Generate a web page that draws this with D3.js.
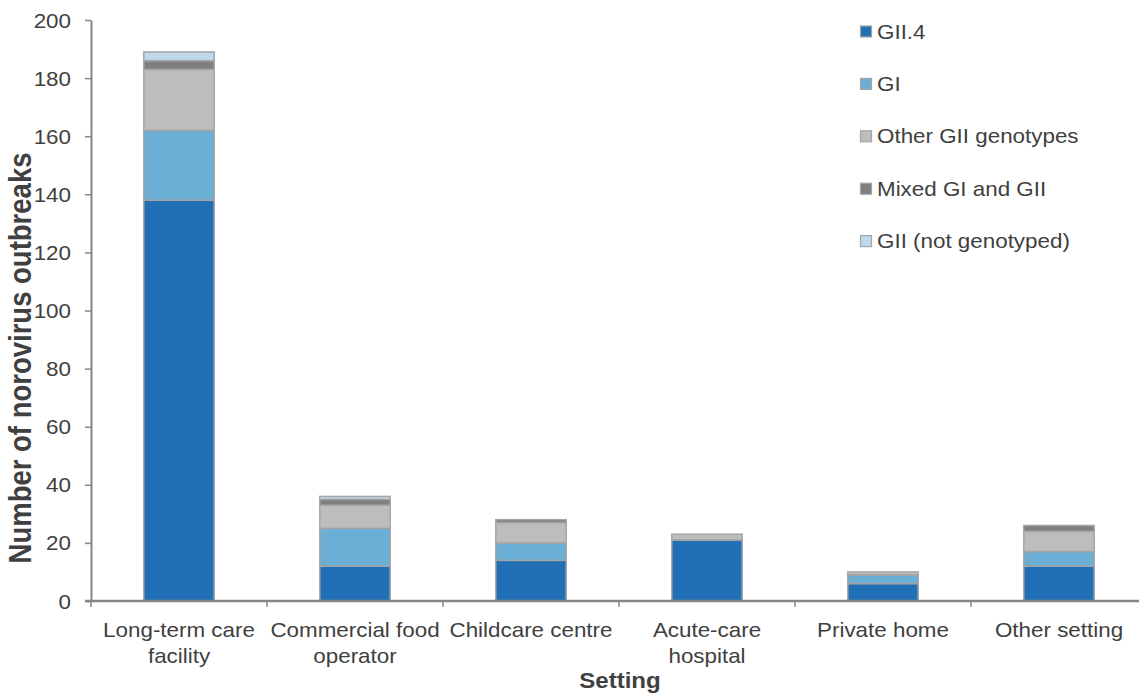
<!DOCTYPE html>
<html><head><meta charset="utf-8">
<script src="https://cdn.jsdelivr.net/npm/d3@7"></script>
<style>body{margin:0;background:#fff}svg{display:block}text{font-family:"Liberation Sans",Arial,sans-serif;fill:#404040}</style>
</head><body><svg id="c" width="1139" height="695"></svg>
<script>
const categories = ["Long-term care facility","Commercial food operator","Childcare centre","Acute-care hospital","Private home","Other setting"];
const categoryLines = [["Long-term care","facility"],["Commercial food","operator"],["Childcare centre"],["Acute-care","hospital"],["Private home"],["Other setting"]];
const seriesNames = ["GII.4","GI","Other GII genotypes","Mixed GI and GII","GII (not genotyped)"];
const gii4   = [138, 12, 14, 21, 6, 12];
const gi     = [24, 13, 6, 0, 3, 5];
const otherG = [21, 8, 7, 2, 1, 7];
const mixed  = [3, 2, 1, 0, 0, 2];
const giiNot = [3, 1, 0, 0, 0, 0];
const yTicks = [0,20,40,60,80,100,120,140,160,180,200];
const colors = ["#2170b5","#6baed6","#bdbdbd","#7f7f7f","#bfd9ec"];

const SX = 1.12; // horizontal stretch of text seen in reference
const seriesVals = [gii4, gi, otherG, mixed, giiNot];
const rows = categories.map((c,i)=>{const r={cat:c}; seriesNames.forEach((s,j)=>r[s]=seriesVals[j][i]); return r;});
const stack = d3.stack().keys(seriesNames)(rows);

const svg = d3.select("#c");
const x0 = 91, y0 = 601, yTop = 20, step = 176;
const x = d3.scaleBand().domain(categories).range([x0, x0 + step*categories.length]).paddingInner(0.6).paddingOuter(0.3);
const y = d3.scaleLinear().domain([0,200]).range([y0, yTop]);

// bars
stack.forEach((layer,j)=>{
  svg.append("g").selectAll("rect").data(layer).join("rect")
    .attr("x", d=>x(d.data.cat))
    .attr("width", x.bandwidth())
    .attr("y", d=>y(d[1]))
    .attr("height", d=>y(d[0])-y(d[1]))
    .attr("fill", colors[j])
    .attr("stroke", d=> (d[1]-d[0])>0 ? "#a5a5a5" : "none")
    .attr("stroke-width", 1.5);
});

// y axis
const ya = svg.append("g").attr("transform",`translate(${x0},0)`)
  .call(d3.axisLeft(y).tickValues(yTicks).tickSize(6).tickSizeOuter(0).tickPadding(14));
ya.select(".domain").attr("stroke","#868686").attr("stroke-width",2);
ya.selectAll(".tick line").attr("stroke","#868686").attr("stroke-width",1.5);
ya.selectAll(".tick text").attr("font-size",20).attr("fill","#404040")
  .attr("font-family","Liberation Sans, Arial, sans-serif")
  .attr("x",null).attr("dy",null)
  .attr("transform",`translate(-20,7) scale(${SX},1)`);

// x axis
svg.append("line").attr("x1",x0-6).attr("x2",1139).attr("y1",y0).attr("y2",y0).attr("stroke","#868686").attr("stroke-width",2.5);
const sepTicks = d3.range(categories.length).map(i=>x0 + step*i);
svg.append("g").selectAll("line").data(sepTicks).join("line")
  .attr("x1",d=>d).attr("x2",d=>d).attr("y1",y0).attr("y2",y0+6).attr("stroke","#868686").attr("stroke-width",1.5);
const xl = svg.append("g").selectAll("text").data(categories).join("text")
  .attr("text-anchor","middle").attr("font-size",20)
  .attr("transform", d=>`translate(${x(d)+x.bandwidth()/2},637) scale(${SX},1)`);
xl.each(function(d,i){
  const t=d3.select(this);
  categoryLines[i].forEach((ln,k)=>t.append("tspan").attr("x",0).attr("dy", k===0?0:26).text(ln));
});

// axis titles
svg.append("text").attr("transform",`translate(620,688) scale(${SX},1)`).attr("text-anchor","middle").attr("font-size",21.5).attr("font-weight","bold").text("Setting");
svg.append("text").attr("transform",`translate(31,358) rotate(-90) scale(1,${SX})`).attr("text-anchor","middle").attr("font-size",27.5).attr("font-weight","bold").text("Number of norovirus outbreaks");

// legend
const lg = svg.append("g").selectAll("g").data(seriesNames).join("g")
  .attr("transform",(d,i)=>`translate(860,${31.5 + i*52.4})`);
lg.append("rect").attr("x",0.5).attr("y",-5.5).attr("width",11).attr("height",11)
  .attr("fill",(d,i)=>colors[i]).attr("stroke","#a5a5a5").attr("stroke-width",1.2);
lg.append("text").attr("transform",`translate(17,7) scale(${SX},1)`).attr("font-size",20).text(d=>d);
</script></body></html>
